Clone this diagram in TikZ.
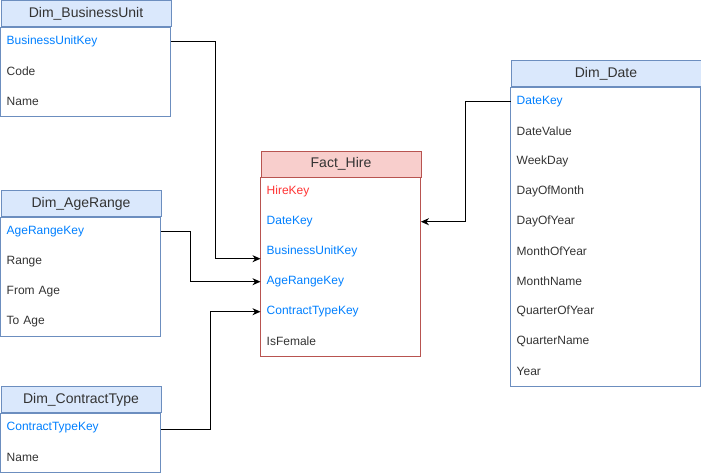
\documentclass[tikz,border=0pt]{standalone}
\usepackage{fontspec}
\setmainfont{Liberation Sans}
\usetikzlibrary{arrows.meta,calc}
\definecolor{dimfill}{HTML}{DAE8FC}
\definecolor{dimline}{HTML}{6C8EBF}
\definecolor{factfill}{HTML}{F8CECC}
\definecolor{factline}{HTML}{B85450}
\definecolor{keyblue}{HTML}{007FFF}
\definecolor{keyred}{HTML}{FF3333}
\definecolor{txtgray}{HTML}{333333}
\tikzset{
  hdr/.style={draw=dimline, fill=dimfill, line width=1pt, minimum height=26pt, inner sep=0pt,
    anchor=north west, text=txtgray, font=\fontsize{14}{16}\selectfont},
  facthdr/.style={hdr, draw=factline, fill=factfill},
  fieldrow/.style={minimum height=30pt, inner ysep=0pt, inner xsep=6pt, anchor=north west,
    text width=#1, align=left, text=txtgray, font=\fontsize{12}{14}\selectfont},
  keyf/.style={text=keyblue},
  pkf/.style={text=keyred},
  bodybox/.style={draw=dimline, line width=1pt},
  factbox/.style={draw=factline, line width=1pt},
  conn/.style={draw=black, line width=1pt, -{Stealth[length=8pt,width=7pt,inset=2.5pt]}}
}
\begin{document}
\begin{tikzpicture}[x=1pt,y=-1pt]
\useasboundingbox (0,0) rectangle (701,476);
% Dim_BusinessUnit
\node[hdr, minimum width=170pt] (bu) at (0.5,0.5) {Dim\_BusinessUnit};
\node[fieldrow=158pt, keyf] (buK) at (0.5,26.5) {BusinessUnitKey};
\node[fieldrow=158pt] (buC) at (0.5,56.5) {Code};
\node[fieldrow=158pt] (buN) at (0.5,86.5) {Name};
\draw[bodybox] (bu.south west) rectangle (buN.south east);
% Dim_AgeRange
\node[hdr, minimum width=160pt] (ar) at (0.5,190) {Dim\_AgeRange};
\node[fieldrow=148pt, keyf] (arK) at (0.5,216) {AgeRangeKey};
\node[fieldrow=148pt] (arR) at (0.5,246) {Range};
\node[fieldrow=148pt] (arF) at (0.5,276) {From Age};
\node[fieldrow=148pt] (arT) at (0.5,306) {To Age};
\draw[bodybox] (ar.south west) rectangle (arT.south east);
% Dim_ContractType
\node[hdr, minimum width=160pt] (ct) at (0.5,386) {Dim\_ContractType};
\node[fieldrow=148pt, keyf] (ctK) at (0.5,412) {ContractTypeKey};
\node[fieldrow=148pt] (ctN) at (0.5,442) {Name};
\draw[bodybox] (ct.south west) rectangle (ctN.south east);
% Fact_Hire
\node[facthdr, minimum width=160pt] (fh) at (260.5,150.5) {Fact\_Hire};
\node[fieldrow=148pt, pkf] (fHK) at (260.5,176.5) {HireKey};
\node[fieldrow=148pt, keyf] (fDK) at (260.5,206.5) {DateKey};
\node[fieldrow=148pt, keyf] (fBU) at (260.5,236.5) {BusinessUnitKey};
\node[fieldrow=148pt, keyf] (fAR) at (260.5,266.5) {AgeRangeKey};
\node[fieldrow=148pt, keyf] (fCT) at (260.5,296.5) {ContractTypeKey};
\node[fieldrow=148pt] (fIF) at (260.5,326.5) {IsFemale};
\draw[factbox] (fh.south west) rectangle (fIF.south east);
% Dim_Date
\node[hdr, minimum width=190pt] (dd) at (510.5,60.5) {Dim\_Date};
\node[fieldrow=178pt, keyf] (dK) at (510.5,86.5) {DateKey};
\node[fieldrow=178pt] (dV) at (510.5,116.5) {DateValue};
\node[fieldrow=178pt] (dW) at (510.5,146.5) {WeekDay};
\node[fieldrow=178pt] (dDM) at (510.5,176.5) {DayOfMonth};
\node[fieldrow=178pt] (dDY) at (510.5,206.5) {DayOfYear};
\node[fieldrow=178pt] (dMY) at (510.5,236.5) {MonthOfYear};
\node[fieldrow=178pt] (dMN) at (510.5,266.5) {MonthName};
\node[fieldrow=178pt] (dQY) at (510.5,296.5) {QuarterOfYear};
\node[fieldrow=178pt] (dQN) at (510.5,326.5) {QuarterName};
\node[fieldrow=178pt] (dY) at (510.5,356.5) {Year};
\draw[bodybox] (dd.south west) rectangle (dY.south east);
% connectors
\coordinate (j1) at (215.5,0);
\coordinate (j2) at (190.5,0);
\coordinate (j3) at (210.5,0);
\coordinate (j4) at (465.5,0);
\coordinate (tBU) at ([yshift=-7pt]fBU.west);
\coordinate (sCT) at ([yshift=-2pt]ctK.east);
\draw[conn] (buK.east) -| (j1 |- tBU) -- (tBU);
\draw[conn] (arK.east) -| (j2 |- fAR.west) -- (fAR.west);
\draw[conn] (sCT) -| (j3 |- fCT.west) -- (fCT.west);
\draw[conn] (dK.west) -| (j4 |- fDK.east) -- (fDK.east);
\end{tikzpicture}
\end{document}
